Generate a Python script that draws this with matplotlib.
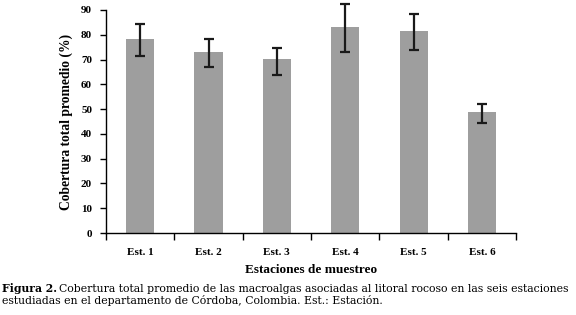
import matplotlib
matplotlib.use("Agg")
import matplotlib.pyplot as plt
import numpy as np

estaciones = ["Est. 1", "Est. 2", "Est. 3", "Est. 4", "Est. 5", "Est. 6"]
cobertura = [78.3, 73.0, 70.2, 83.1, 81.5, 48.8]
err_inf = [6.9, 6.0, 6.6, 9.9, 7.7, 4.4]
err_sup = [5.9, 5.4, 4.5, 9.3, 6.9, 3.3]

plt.rcParams['font.family'] = ['Liberation Serif', 'DejaVu Serif']

fig = plt.figure(figsize=(5.76, 3.15), dpi=100)
ax = fig.add_axes([0.184, 0.2603, 0.712, 0.708])

x = np.arange(len(estaciones))
ax.bar(x, cobertura, width=0.41, color='#9e9e9e', zorder=2)
eb = ax.errorbar(x, cobertura, yerr=[err_inf, err_sup], fmt='none', ecolor='#1a1a1a',
                 elinewidth=1.6, capsize=3.5, capthick=1.6, zorder=3)
for art in list(eb.lines[1]) + list(eb.lines[2]):
    art.set_clip_on(False)

ax.set_xlim(-0.5, len(estaciones) - 0.5)
ax.set_ylim(0, 90)
ax.set_yticks(np.arange(0, 91, 10))
ax.set_xticks(x)
ax.set_xticklabels(estaciones, fontsize=8, fontweight='bold')
ax.set_xticks(np.arange(-0.5, len(estaciones), 1), minor=True)
ax.tick_params(axis='x', which='major', length=0, pad=11)
ax.tick_params(axis='x', which='minor', length=5, width=1, direction='out')
ax.tick_params(axis='y', length=4, width=1, direction='out', labelsize=8, pad=6)
for lab in ax.get_yticklabels():
    lab.set_fontweight('bold')

for s in ['top', 'right']:
    ax.spines[s].set_visible(False)
ax.spines['left'].set_linewidth(1)
ax.spines['bottom'].set_linewidth(1)

ax.set_ylabel("Cobertura total promedio (%)", fontsize=9.8, fontweight='bold', labelpad=6)
ax.set_xlabel("Estaciones de muestreo", fontsize=9.5, fontweight='bold', labelpad=5)

# caption, first line should fill the page width
cap_font = 'DejaVu Serif'
cap_size = 7.85
fig.canvas.draw()
r = fig.canvas.get_renderer()
t1 = fig.text(0.004, 0.073, "Figura 2.", fontsize=cap_size, fontweight='bold',
              family=cap_font, ha='left', va='baseline')
bb = t1.get_window_extent(renderer=r)
x2 = (bb.x1 + 2) / fig.bbox.width
fig.text(x2, 0.073, "Cobertura total promedio de las macroalgas asociadas al litoral rocoso en las seis estaciones",
         fontsize=cap_size, family=cap_font, ha='left', va='baseline')
fig.text(0.004, 0.036, "estudiadas en el departamento de Córdoba, Colombia. Est.: Estación.",
         fontsize=cap_size, family=cap_font, ha='left', va='baseline')

fig.savefig("out.png", dpi=100)
